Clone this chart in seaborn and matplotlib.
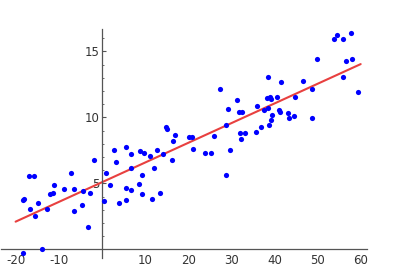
import matplotlib
matplotlib.use("Agg")
import matplotlib.pyplot as plt
from matplotlib.ticker import MultipleLocator, FuncFormatter
import seaborn as sns
import pandas as pd

x_vals = [-18.27, -17.97, -18.27, -16.98, -15.84, -16.74, -15.61, -14.89, -13.92, -12.71,
          -12.14, -11.37, -11.07, -8.78, -7.25, -6.46, -6.44, -4.26, -4.54, -3.20,
          -2.80, -1.71, 0.56, 1.02, 1.99, 2.80, 3.27, 4.03, 5.60, 5.58,
          5.58, 6.74, 6.76, 6.76, 8.66, 8.94, 9.24, 9.38, 9.82, 11.16,
          11.63, 12.00, 12.76, 13.55, 14.24, 14.84, 15.08, 16.16, 16.51, 16.84,
          20.13, 21.00, 21.19, 23.83, 25.41, 25.98, 27.49, 28.88, 28.86, 29.30,
          29.69, 31.36, 31.77, 32.58, 32.05, 32.17, 33.21, 35.64, 36.01, 36.85,
          37.66, 38.19, 38.61, 38.70, 38.58, 39.00, 39.19, 39.12, 39.44, 40.69,
          41.08, 41.34, 41.55, 43.05, 43.42, 44.44, 44.79, 46.57, 48.73, 48.80,
          49.93, 53.78, 54.56, 55.95, 56.51, 55.86, 57.76, 58.06, 59.38]
y_vals = [3.71, 3.85, -0.27, 5.57, 5.57, 3.07, 2.52, 3.52, 0.02, 3.09,
          4.19, 4.26, 4.87, 4.58, 5.80, 4.58, 2.90, 4.45, 3.39, 1.68,
          4.26, 6.74, 3.70, 5.82, 4.86, 7.52, 6.63, 3.54, 7.74, 4.62,
          3.73, 7.25, 6.15, 4.52, 4.92, 7.48, 5.66, 4.23, 7.33, 7.05,
          3.79, 6.20, 7.52, 4.26, 7.22, 9.26, 9.13, 6.75, 8.25, 8.65,
          8.48, 8.48, 7.64, 7.33, 7.30, 8.58, 12.14, 9.39, 5.62, 10.63,
          7.52, 11.29, 10.40, 10.40, 8.83, 8.33, 8.83, 8.88, 10.86, 9.27,
          10.60, 11.45, 13.05, 9.40, 10.68, 11.58, 11.40, 9.84, 10.17, 11.57,
          10.57, 10.40, 12.65, 10.33, 9.99, 10.13, 11.54, 12.77, 12.17, 9.96,
          14.41, 15.95, 16.23, 15.95, 14.27, 13.05, 16.40, 14.41, 11.95]

fit_x = [-20, 60]
fit_y = [2.10, 14.04]

x_major_ticks = [-20, -10, 10, 20, 30, 40, 50, 60]
y_major_ticks = [5, 10, 15]

sns.set_style("white")
plt.rcParams['font.family'] = ['DejaVu Sans']
plt.rcParams['axes.unicode_minus'] = False

fig = plt.figure(figsize=(3.93, 2.75), dpi=100)
ax = fig.add_axes([0.0013, 0.062, 0.9318, 0.8325])

df = pd.DataFrame({"x": x_vals, "y": y_vals})
sns.lineplot(x=fit_x, y=fit_y, color="#e8403f", linewidth=1.5, ax=ax, zorder=2)
sns.scatterplot(data=df, x="x", y="y", color="#0000ff", s=14, linewidth=0, ax=ax, zorder=3)

ax.set_xlim(-23.5, 61.4)
ax.set_ylim(-0.65, 16.7)

for s in ["top", "right"]:
    ax.spines[s].set_visible(False)
ax.spines["left"].set_position(("data", 0))
ax.spines["bottom"].set_position(("data", 0))
for s in ["left", "bottom"]:
    ax.spines[s].set_color("#555555")
    ax.spines[s].set_linewidth(0.9)

ax.set_xticks(x_major_ticks)
ax.set_yticks(y_major_ticks)
ax.xaxis.set_minor_locator(MultipleLocator(2.5))
ax.yaxis.set_minor_locator(MultipleLocator(1))
fmt = FuncFormatter(lambda v, p: "" if abs(v) < 1e-9 else f"{v:g}")
ax.xaxis.set_major_formatter(fmt)
ax.yaxis.set_major_formatter(fmt)
ax.tick_params(axis="both", which="major", direction="in", length=3, width=0.8,
               color="#555555", labelsize=8.5, labelcolor="#333333", pad=3)
ax.tick_params(axis="both", which="minor", direction="in", length=1.5, width=0.6,
               color="#555555")
ax.tick_params(axis="y", which="both", left=True, pad=2)
ax.set_xlabel("")
ax.set_ylabel("")
ax.grid(False)
ax.set_facecolor("white")

fig.savefig("out.png", dpi=100)
